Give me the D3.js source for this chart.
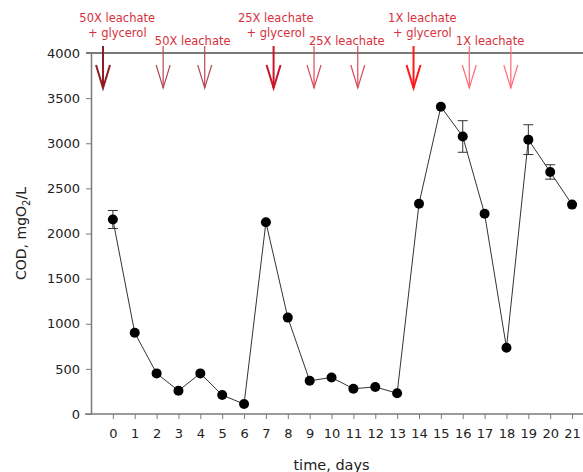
<!DOCTYPE html>
<html>
<head>
<meta charset="utf-8">
<script src="https://cdn.jsdelivr.net/npm/d3@7"></script>
<style>
  body { margin: 0; background: #fff; }
  text { font-family: "DejaVu Sans", sans-serif; }
</style>
</head>
<body>
<div id="chart"></div>
<script>
// data
var days = [0, 1, 2, 3, 4, 5, 6, 7, 8, 9, 10, 11, 12, 13, 14, 15, 16, 17, 18, 19, 20, 21];
var cod = [2155, 900, 450, 258, 450, 210, 110, 2125, 1068, 368, 405, 280, 300, 230, 2330, 3405, 3075, 2218, 735, 3040, 2682, 2320];
var codErr = [100, 0, 0, 0, 0, 0, 0, 0, 0, 0, 0, 0, 0, 0, 0, 0, 175, 0, 0, 165, 80, 0];
var yTicks = [0, 500, 1000, 1500, 2000, 2500, 3000, 3500, 4000];

// feeding arrows (day positions as drawn) and their labels
var arrowDays = [-0.45, 2.3, 4.2, 7.35, 9.2, 11.2, 13.75, 16.3, 18.2];
var arrowColors = ["#8e1c22", "#b24a55", "#b24a55", "#cc1428", "#d94a5a", "#d94a5a", "#ff1a1a", "#ff6a78", "#ff6a78"];
var arrowBold = [true, false, false, true, false, false, true, false, false];
var feedLabels = [
  {day: 0.2, lines: ["50X leachate", "+ glycerol"]},
  {day: 3.65, lines: ["50X leachate"]},
  {day: 7.45, lines: ["25X leachate", "+ glycerol"]},
  {day: 10.7, lines: ["25X leachate"]},
  {day: 14.15, lines: ["1X leachate", "+ glycerol"]},
  {day: 17.25, lines: ["1X leachate"]}
];

var width = 583, height = 472;
var margin = {top: 53, right: 0, bottom: 58, left: 91};

var svg = d3.select("#chart")
  .append("svg")
  .attr("width", width)
  .attr("height", height);

var x = d3.scaleLinear()
  .domain([-1, 21.5])
  .range([margin.left, width - margin.right]);

var y = d3.scaleLinear()
  .domain([0, 4000])
  .range([height - margin.bottom, margin.top]);

var axisColor = "#7a7a7a";

// x axis
var xAxis = svg.append("g")
  .attr("transform", "translate(0," + y(0) + ")")
  .call(d3.axisBottom(x).tickValues(days).tickSize(5).tickPadding(10).tickSizeOuter(0));
xAxis.select(".domain").remove();
xAxis.append("line")
  .attr("x1", margin.left - 6).attr("x2", width)
  .attr("stroke", axisColor).attr("stroke-width", 1.5);
xAxis.selectAll(".tick line").attr("stroke", axisColor);
xAxis.selectAll(".tick text").attr("font-size", 13).attr("fill", "#222");

// y axis
var yAxis = svg.append("g")
  .attr("transform", "translate(" + margin.left + ",0)")
  .call(d3.axisLeft(y).tickValues(yTicks).tickFormat(d3.format("d"))
    .tickSize(5).tickPadding(6).tickSizeOuter(0));
yAxis.select(".domain").attr("stroke", axisColor).attr("stroke-width", 1.5);
yAxis.selectAll(".tick line").attr("stroke", axisColor);
yAxis.selectAll(".tick text").attr("font-size", 13).attr("fill", "#222");

// top line at 4000
svg.append("line")
  .attr("x1", margin.left - 5).attr("x2", width)
  .attr("y1", y(4000)).attr("y2", y(4000))
  .attr("stroke", axisColor).attr("stroke-width", 2);

// axis titles
svg.append("text")
  .attr("x", x(10)).attr("y", 470)
  .attr("text-anchor", "middle")
  .attr("font-size", 14.5).attr("fill", "#222")
  .text("time, days");

var yTitle = svg.append("text")
  .attr("transform", "translate(26," + y(2000) + ") rotate(-90)")
  .attr("text-anchor", "middle")
  .attr("font-size", 14).attr("fill", "#222");
yTitle.append("tspan").text("COD, mgO");
yTitle.append("tspan").attr("font-size", 10).attr("dy", 4).text("2");
yTitle.append("tspan").attr("dy", -4).text("/L");

// line
svg.append("path")
  .datum(days)
  .attr("fill", "none")
  .attr("stroke", "#333")
  .attr("stroke-width", 1)
  .attr("d", d3.line()
    .x(function(d, i) { return x(days[i]); })
    .y(function(d, i) { return y(cod[i]); }));

// error bars
days.forEach(function(d, i) {
  if (codErr[i] > 0) {
    var g = svg.append("g").attr("stroke", "#333").attr("stroke-width", 1);
    g.append("line").attr("x1", x(d)).attr("x2", x(d))
      .attr("y1", y(cod[i] - codErr[i])).attr("y2", y(cod[i] + codErr[i]));
    [cod[i] - codErr[i], cod[i] + codErr[i]].forEach(function(v) {
      g.append("line").attr("x1", x(d) - 5).attr("x2", x(d) + 5)
        .attr("y1", y(v)).attr("y2", y(v));
    });
  }
});

// points
svg.selectAll(".pt")
  .data(days)
  .enter().append("circle")
  .attr("cx", function(d) { return x(d); })
  .attr("cy", function(d, i) { return y(cod[i]); })
  .attr("r", 5)
  .attr("fill", "#000");

// arrows
arrowDays.forEach(function(d, i) {
  var ax = x(d);
  var g = svg.append("g")
    .attr("stroke", arrowColors[i])
    .attr("stroke-width", arrowBold[i] ? 2 : 1.2)
    .attr("fill", "none");
  g.append("line").attr("x1", ax).attr("x2", ax).attr("y1", 46).attr("y2", 88);
  g.append("path")
    .attr("d", "M" + (ax - 7) + ",65 L" + ax + ",88 L" + (ax + 7) + ",65");
});

// feed labels
feedLabels.forEach(function(l) {
  var two = l.lines.length == 2;
  var t = svg.append("text")
    .attr("x", x(l.day))
    .attr("y", two ? 22 : 45)
    .attr("text-anchor", "middle")
    .attr("font-size", 11.5)
    .attr("fill", "#d7303c");
  l.lines.forEach(function(s, j) {
    t.append("tspan").attr("x", x(l.day)).attr("dy", j == 0 ? 0 : 15).text(s);
  });
});
</script>
</body>
</html>
